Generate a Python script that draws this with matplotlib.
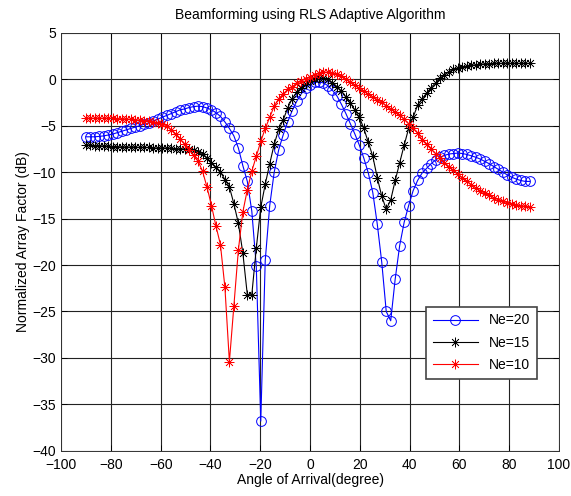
import numpy as np
import matplotlib
matplotlib.use("Agg")
import matplotlib.pyplot as plt

# angle grid: -90 .. 88.2 with 1.8 degree step (100 samples)
angles = np.linspace(-90, 88.2, 100)

# Ne = 20 (blue, circles)
af_ne20 = [
    -6.2, -6.2, -6.2, -6.15, -6.1, -6.0, -5.9, -5.75, -5.6, -5.45,
    -5.3, -5.15, -5.0, -4.85, -4.7, -4.5, -4.3, -4.1, -3.9, -3.7,
    -3.5, -3.3, -3.2, -3.05, -2.95, -2.9, -2.95, -3.1, -3.3, -3.6,
    -4.0, -4.6, -5.3, -6.1, -7.4, -9.3, -11.0, -14.2, -20.1, -36.8,
    -19.5, -13.6, -10.0, -7.6, -6.0, -4.6, -3.4, -2.4, -1.6, -1.0,
    -0.6, -0.35, -0.3, -0.4, -0.7, -1.2, -1.8, -2.7, -3.7, -4.8,
    -5.9, -7.1, -8.5, -10.1, -12.2, -15.6, -19.7, -25.0, -26.0, -21.5,
    -17.9, -15.4, -13.6, -12.0, -10.9, -10.1, -9.6, -9.1, -8.7, -8.4,
    -8.2, -8.05, -8.0, -7.95, -8.0, -8.1, -8.25, -8.4, -8.6, -8.85,
    -9.1, -9.4, -9.7, -10.0, -10.3, -10.55, -10.75, -10.9, -11.0, -11.0,
]

# Ne = 15 (black, asterisks)
af_ne15 = [
    -7.1, -7.1, -7.15, -7.15, -7.2, -7.2, -7.25, -7.25, -7.3, -7.3,
    -7.3, -7.3, -7.35, -7.35, -7.35, -7.4, -7.4, -7.4, -7.4, -7.45,
    -7.5, -7.5, -7.5, -7.55, -7.6, -7.8, -8.1, -8.5, -9.0, -9.5,
    -10.0, -10.8, -11.6, -13.4, -15.5, -18.7, -23.2, -23.2, -18.2, -13.8,
    -11.3, -9.1, -7.0, -5.4, -4.4, -3.1, -2.1, -1.4, -0.9, -0.5,
    -0.2, 0.0, 0.1, 0.1, 0.0, -0.4, -0.8, -1.3, -1.9, -2.6,
    -3.3, -4.1, -5.3, -6.8, -8.3, -10.6, -12.6, -14.0, -13.0, -10.9,
    -9.0, -7.1, -5.3, -4.1, -2.8, -2.1, -1.5, -0.9, -0.4, 0.1,
    0.5, 0.8, 1.05, 1.2, 1.3, 1.4, 1.5, 1.55, 1.6, 1.65,
    1.65, 1.7, 1.7, 1.7, 1.7, 1.7, 1.7, 1.7, 1.7, 1.7,
]

# Ne = 10 (red, asterisks)
af_ne10 = [
    -4.2, -4.2, -4.2, -4.2, -4.2, -4.2, -4.2, -4.25, -4.25, -4.3,
    -4.3, -4.35, -4.4, -4.45, -4.5, -4.6, -4.7, -4.85, -5.0, -5.45,
    -5.9, -6.45, -7.0, -7.6, -8.2, -8.8, -9.9, -11.6, -13.6, -15.8,
    -17.8, -22.4, -30.4, -24.4, -18.4, -14.3, -11.9, -9.9, -8.3, -6.7,
    -5.3, -4.1, -2.9, -2.1, -1.6, -1.1, -0.8, -0.45, -0.2, 0.05,
    0.25, 0.45, 0.65, 0.75, 0.75, 0.7, 0.55, 0.3, 0.0, -0.3,
    -0.65, -1.0, -1.3, -1.6, -1.9, -2.2, -2.5, -2.85, -3.2, -3.5,
    -3.9, -4.3, -4.8, -5.3, -5.8, -6.5, -7.0, -7.5, -8.0, -8.5,
    -9.0, -9.4, -9.8, -10.25, -10.6, -11.0, -11.35, -11.7, -12.0, -12.3,
    -12.5, -12.75, -12.95, -13.1, -13.3, -13.4, -13.5, -13.6, -13.7, -13.8,
]

labels = ["Ne=20", "Ne=15", "Ne=10"]
x_ticks = list(range(-100, 101, 20))
y_ticks = list(range(-40, 6, 5))

plt.rcParams['font.family'] = ['Liberation Sans', 'DejaVu Sans']
plt.rcParams['font.size'] = 10

fig = plt.figure(figsize=(5.71, 4.96), dpi=100)
ax = fig.add_axes([0.107, 0.091, 0.872, 0.843])

# matlab-like '*' marker: 8 spokes
asterisk = (8, 2, 0)
ax.plot(angles, af_ne20, color='#0000ff', lw=0.8, marker='o', ms=7,
        mfc='none', mew=0.7, label=labels[0])
ax.plot(angles, af_ne15, color='black', lw=0.8, marker=asterisk, ms=7,
        mew=0.5, label=labels[1])
ax.plot(angles, af_ne10, color='red', lw=0.8, marker=asterisk, ms=7,
        mew=0.5, label=labels[2])

ax.set_xlim(-100, 100)
ax.set_ylim(-40, 5)
ax.set_xticks(x_ticks)
ax.set_yticks(y_ticks)
ax.grid(True, color='#222222', lw=0.8, ls='-')
ax.set_axisbelow(True)
ax.tick_params(direction='in', top=True, right=True, length=4, width=0.6)
ax.tick_params(axis='x', pad=5)
for s in ax.spines.values():
    s.set_linewidth(0.7)
    s.set_color('#333333')

ax.set_title("Beamforming using RLS Adaptive Algorithm", fontsize=10, pad=10)
ax.set_xlabel("Angle of Arrival(degree)", labelpad=1)
ax.set_ylabel("Normalized Array Factor (dB)", labelpad=2)

leg = ax.legend(loc='lower right', bbox_to_anchor=(0.970, 0.155),
                fancybox=False, framealpha=1, edgecolor='#444444',
                handlelength=3.2, borderpad=0.5, labelspacing=0.6)
leg.get_frame().set_linewidth(1.2)

fig.savefig("out.png", dpi=100)
